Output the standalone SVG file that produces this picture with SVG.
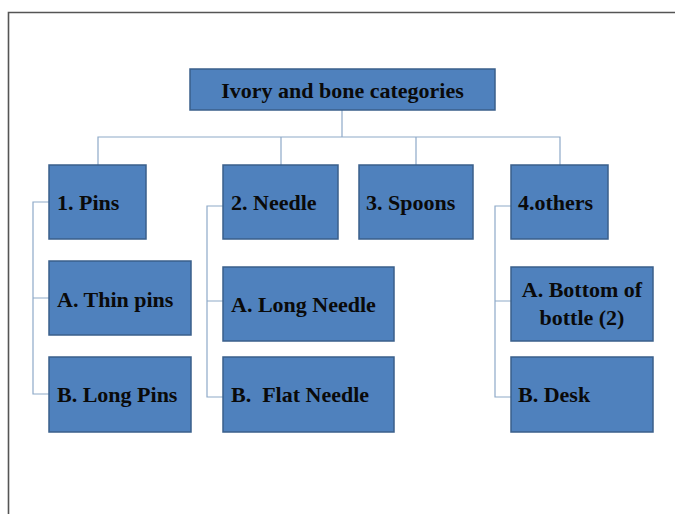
<svg xmlns="http://www.w3.org/2000/svg" width="675" height="514" viewBox="0 0 675 514">
<style>
.box{fill:#4F81BD;stroke:#3A5F8B;stroke-width:1.5}
.t{font-family:"Liberation Serif","Times New Roman",serif;font-weight:bold;font-size:22px;fill:#0A0A0A;white-space:pre}
.c{fill:none;stroke:#8EA9C8;stroke-width:1.2}
</style>
<rect x="0" y="0" width="675" height="514" fill="#FFFFFF"/>
<path d="M8.5 514 V12.5 H675" fill="none" stroke="#555555" stroke-width="1.6"/>
<g id="connectors">
<path class="c" d="M342 110 V137 M98 165 V137 H560 V165 M281 137 V165 M416 137 V165"/>
<path class="c" d="M49 202 H33 V394 H49 M33 298 H49"/>
<path class="c" d="M223 206 H207 V397 H223 M207 301 H223"/>
<path class="c" d="M511 206 H495 V397 H511 M495 301 H511"/>
</g>
<g id="root"><rect class="box" x="190" y="69" width="305" height="41"/><text class="t" x="342.5" y="98" text-anchor="middle">Ivory and bone categories</text></g>
<g id="pins"><rect class="box" x="49" y="165" width="97" height="74"/><text class="t" x="57" y="210">1. Pins</text></g>
<g id="needle"><rect class="box" x="223" y="165" width="115" height="74"/><text class="t" x="231" y="210">2. Needle</text></g>
<g id="spoons"><rect class="box" x="359" y="165" width="114" height="74"/><text class="t" x="366" y="210">3. Spoons</text></g>
<g id="others"><rect class="box" x="511" y="165" width="97" height="74"/><text class="t" x="518" y="210">4.others</text></g>
<g id="thin-pins"><rect class="box" x="49" y="261" width="142" height="74"/><text class="t" x="57" y="307">A. Thin pins</text></g>
<g id="long-pins"><rect class="box" x="49" y="357" width="142" height="75"/><text class="t" x="57" y="402">B. Long Pins</text></g>
<g id="long-needle"><rect class="box" x="223" y="267" width="171" height="74"/><text class="t" x="231" y="312">A. Long Needle</text></g>
<g id="flat-needle"><rect class="box" x="223" y="357" width="171" height="75"/><text class="t" x="231" y="402">B.  Flat Needle</text></g>
<g id="bottom-bottle"><rect class="box" x="511" y="267" width="142" height="74"/><text class="t" x="582" y="297" text-anchor="middle">A. Bottom of</text><text class="t" x="582" y="325" text-anchor="middle">bottle (2)</text></g>
<g id="desk"><rect class="box" x="511" y="357" width="142" height="75"/><text class="t" x="518" y="402">B. Desk</text></g>
</svg>
